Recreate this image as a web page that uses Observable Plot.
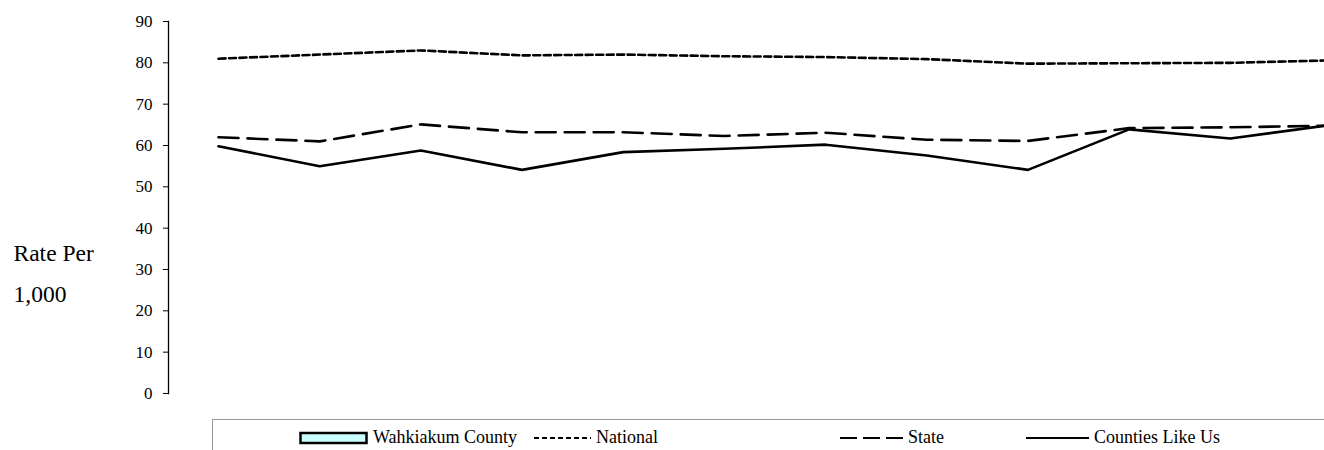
<!DOCTYPE html>
<html>
<head>
<meta charset="utf-8">
<script src="https://cdn.jsdelivr.net/npm/d3@7"></script>
<script src="https://cdn.jsdelivr.net/npm/@observablehq/plot@0.6"></script>
<style>
  html, body { margin: 0; padding: 0; background: #fff; overflow: hidden; }
  #wrap { position: relative; width: 1324px; height: 450px; font-family: "Liberation Serif", "Times New Roman", serif; color: #000; }
  #legend { position: absolute; left: 212px; top: 419px; width: 1130px; height: 45px; border: 1px solid #999; box-sizing: border-box; }
  .item { position: absolute; top: 7px; display: flex; align-items: center; font-size: 18px; white-space: nowrap; }
  .item svg { display: block; margin-right: 4px; }
</style>
</head>
<body>
<div id="wrap"></div>
<script>
// ---- data ----
const periods = [1, 2, 3, 4, 5, 6, 7, 8, 9, 10, 11, 12];
const national = [81.0, 82.0, 83.0, 81.8, 82.0, 81.6, 81.4, 80.9, 79.8, 79.9, 80.0, 80.6];
const state = [62.0, 61.0, 65.1, 63.2, 63.2, 62.3, 63.1, 61.4, 61.1, 64.2, 64.4, 64.8];
const countiesLikeUs = [59.8, 55.0, 58.8, 54.1, 58.4, 59.2, 60.2, 57.6, 54.1, 63.9, 61.7, 65.0];
const yTicks = [0, 10, 20, 30, 40, 50, 60, 70, 80, 90];
const yLabel = "Rate Per\n1,000";
const seriesNames = ["Wahkiakum County", "National", "State", "Counties Like Us"];

const toRows = (vals) => periods.map((p, i) => ({period: p, value: vals[i]}));
const serif = "Liberation Serif";

const plot = Plot.plot({
  width: 1324,
  height: 410,
  marginTop: 21,
  marginBottom: 17,
  marginLeft: 168,
  marginRight: 0,
  style: {fontFamily: serif, fontSize: "17px", color: "#000", background: "transparent"},
  x: {type: "linear", domain: [1, 12], range: [218, 1331], axis: null},
  y: {domain: [0, 90]},
  marks: [
    Plot.axisY({ticks: yTicks, tickSize: 5, tickPadding: 11, fontSize: 17, fontFamily: serif, label: null}),
    Plot.frame({anchor: "left", stroke: "#000", strokeWidth: 1.3}),
    Plot.line(toRows(national), {x: "period", y: "value", stroke: "#000", strokeWidth: 2.6, strokeDasharray: "7,3.5"}),
    Plot.line(toRows(state), {x: "period", y: "value", stroke: "#000", strokeWidth: 2.6, strokeDasharray: "20,9"}),
    Plot.line(toRows(countiesLikeUs), {x: "period", y: "value", stroke: "#000", strokeWidth: 2.6}),
    Plot.text([yLabel], {frameAnchor: "left", dx: -155, dy: 61, textAnchor: "start", lineHeight: 1.75, fontSize: 23.5, fontFamily: serif})
  ]
});
document.getElementById("wrap").appendChild(plot);

// ---- legend (below the SVG) ----
const legend = document.createElement("div");
legend.id = "legend";
const lefts = [86, 321, 627, 813];
const swatches = [
  '<svg width="70" height="14"><rect x="1.5" y="2" width="66" height="10" fill="#ccffff" stroke="#000" stroke-width="2.5"/></svg>',
  '<svg width="58" height="14"><line x1="0" y1="7" x2="57" y2="7" stroke="#000" stroke-width="2" stroke-dasharray="5,3"/></svg>',
  '<svg width="64" height="14"><line x1="0" y1="7" x2="63" y2="7" stroke="#000" stroke-width="2" stroke-dasharray="17,6"/></svg>',
  '<svg width="64" height="14"><line x1="0" y1="7" x2="63" y2="7" stroke="#000" stroke-width="2"/></svg>'
];
seriesNames.forEach((name, i) => {
  const it = document.createElement("div");
  it.className = "item";
  it.style.left = lefts[i] + "px";
  it.innerHTML = swatches[i] + "<span>" + name + "</span>";
  legend.appendChild(it);
});
document.getElementById("wrap").appendChild(legend);
</script>
</body>
</html>
